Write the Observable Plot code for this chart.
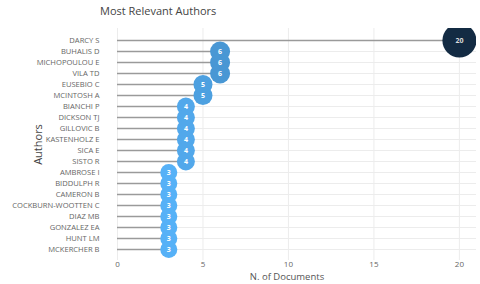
<!DOCTYPE html>
<html>
<head>
<meta charset="utf-8">
<script src="https://cdn.jsdelivr.net/npm/d3@7"></script>
<script src="https://cdn.jsdelivr.net/npm/@observablehq/plot@0.6"></script>
<style>
  body { margin: 0; background: #fff; font-family: "Open Sans", sans-serif; }
  #wrap { width: 480px; height: 284px; overflow: hidden; }
  #title { height: 22px; line-height: 22px; padding-left: 100px; font-size: 11px; color: #444; white-space: nowrap; }
  #xlabel { height: 14px; line-height: 14px; font-size: 9.5px; color: #555; text-align: center; width: 480px; padding-left: 94px; box-sizing: border-box; }
  svg { display: block; }
</style>
</head>
<body>
<div id="wrap">
  <div id="title">Most Relevant Authors</div>
  <div id="chart"></div>
  <div id="xlabel">N. of Documents</div>
</div>
<script>
const authors = ["DARCY S","BUHALIS D","MICHOPOULOU E","VILA TD","EUSEBIO C","MCINTOSH A","BIANCHI P","DICKSON TJ","GILLOVIC B","KASTENHOLZ E","SICA E","SISTO R","AMBROSE I","BIDDULPH R","CAMERON B","COCKBURN-WOOTTEN C","DIAZ MB","GONZALEZ EA","HUNT LM","MCKERCHER B"];
const documents = [20,6,6,6,5,5,4,4,4,4,4,4,3,3,3,3,3,3,3,3];
const xTicks = [0,5,10,15,20];

const data = authors.map((a, i) => ({author: a, n: documents[i]}));

const chart = Plot.plot({
  width: 480,
  height: 248,
  marginLeft: 117,
  marginRight: 4,
  marginTop: 6,
  marginBottom: 10,
  style: {fontFamily: "Open Sans, sans-serif", background: "#fff"},
  x: {domain: [0, 21]},
  y: {type: "point", domain: authors, padding: 1},
  r: {type: "linear", domain: [3, 20], range: [8.5, 17]},
  color: {type: "linear", domain: [3, 20], range: ["#56B1F7", "#132B43"], interpolate: "lab"},
  marks: [
    Plot.gridX(xTicks, {stroke: "#ececec", strokeOpacity: 1}),
    Plot.gridY(authors, {stroke: "#ececec", strokeOpacity: 1}),
    Plot.ruleY(data, {y: "author", x1: 0, x2: "n", stroke: "#9a9a9a", strokeWidth: 1.6}),
    Plot.dot(data, {x: "n", y: "author", r: "n", fill: "n", clip: true}),
    Plot.text(data, {x: "n", y: "author", text: d => String(d.n), fill: d => d.n > 10 ? "#ddd" : "#fff", fontSize: 7, fontWeight: "bold", clip: true}),
    Plot.axisX(xTicks, {tickSize: 0, tickPadding: 1, fontSize: 8, color: "#666", label: null}),
    Plot.axisY(authors, {tickSize: 0, tickPadding: 18, fontSize: 7.6, color: "#666", label: "Authors", labelAnchor: "center", labelArrow: "none", labelOffset: 83})
  ]
});
document.getElementById("chart").appendChild(chart);
chart.querySelectorAll("g[aria-label='y-axis label'] text").forEach(t => { t.style.fontSize = "11px"; t.style.fill = "#444"; });
</script>
</body>
</html>
